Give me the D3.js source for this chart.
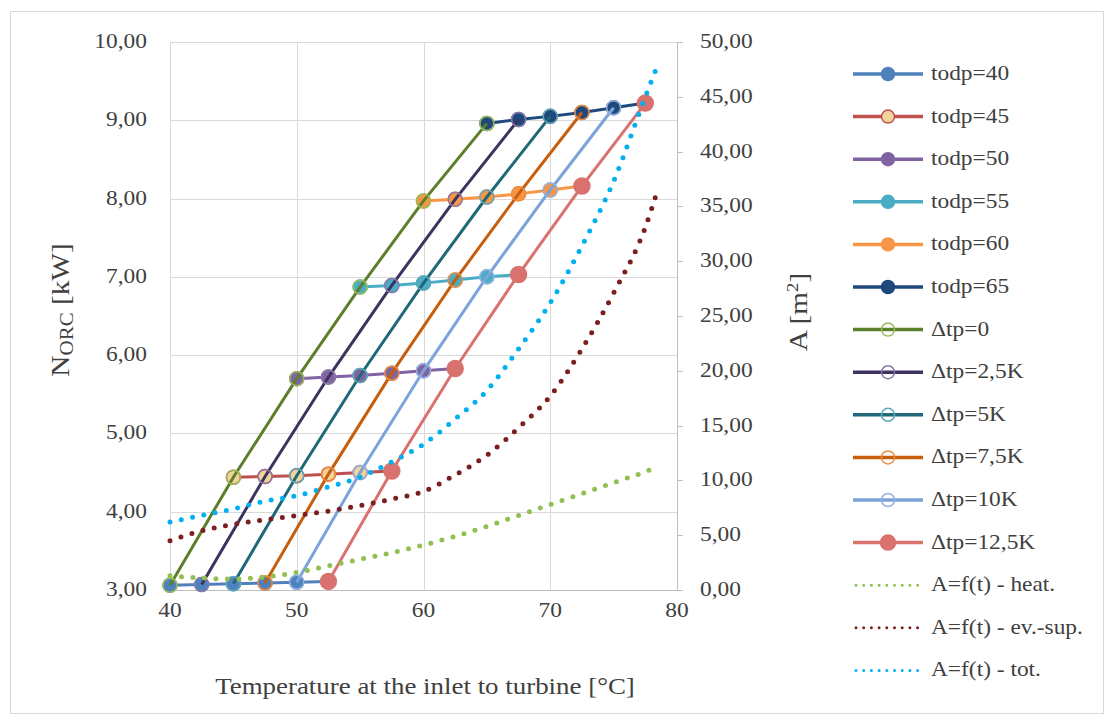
<!DOCTYPE html>
<html>
<head>
<meta charset="utf-8">
<script src="https://cdn.jsdelivr.net/npm/d3@7"></script>
<style>
  body { margin: 0; background: #fff; }
  text { font-family: 'Liberation Serif', 'Times New Roman', serif; fill: #404040; }
</style>
</head>
<body>
<svg id="chart" width="1108" height="722"></svg>
<script>
// ============ data ============
// power series (left axis, kW) - one row per todp
var todpLabels = ['todp=40', 'todp=45', 'todp=50', 'todp=55', 'todp=60', 'todp=65']
var todpTemps = [
  [40, 42.5, 45, 47.5, 50, 52.5],
  [45, 47.5, 50, 52.5, 55, 57.5],
  [50, 52.5, 55, 57.5, 60, 62.5],
  [55, 57.5, 60, 62.5, 65, 67.5],
  [60, 62.5, 65, 67.5, 70, 72.5],
  [65, 67.5, 70, 72.5, 75, 77.5]
]
var todpPower = [
  [3.06, 3.07, 3.08, 3.09, 3.10, 3.11],
  [4.44, 4.45, 4.46, 4.48, 4.50, 4.52],
  [5.70, 5.72, 5.74, 5.77, 5.80, 5.83],
  [6.87, 6.89, 6.92, 6.96, 7.00, 7.03],
  [7.97, 7.99, 8.02, 8.06, 8.11, 8.16],
  [8.96, 9.01, 9.05, 9.10, 9.16, 9.22]
]
// the Δtp series join the k-th point of every todp series
var dtpLabels = ['\u0394tp=0', '\u0394tp=2,5K', '\u0394tp=5K', '\u0394tp=7,5K', '\u0394tp=10K', '\u0394tp=12,5K']

// heat exchanger area (right axis, m2)
var areaTemps = [40, 42.5, 45, 47.5, 50, 52.5, 55, 57.5, 60, 62.5, 65, 67.5, 70, 72.5, 75, 77.5, 78.5]
var areaHeat = [1.3, 1.1, 1.0, 1.2, 1.6, 2.2, 2.8, 3.4, 4.1, 4.9, 5.8, 6.8, 7.8, 8.8, 9.8, 10.8, 11.3]
var areaEvSup = [4.5, 5.4, 6.0, 6.4, 6.8, 7.2, 7.7, 8.3, 9.0, 10.5, 12.3, 14.8, 17.7, 22.0, 27.1, 33.1, 36.6]
var areaTotal = [6.2, 6.8, 7.4, 8.1, 8.6, 9.4, 10.3, 11.7, 13.3, 15.6, 18.2, 22.0, 26.2, 31.4, 37.3, 45.0, 48.0]
var areaLabels = ['A=f(t) - heat.', 'A=f(t) - ev.-sup.', 'A=f(t) - tot.']

var leftTicks = [3, 4, 5, 6, 7, 8, 9, 10]
var rightTicks = [0, 5, 10, 15, 20, 25, 30, 35, 40, 45, 50]
var bottomTicks = [40, 50, 60, 70, 80]

// ============ colours ============
var todpColors = ['#4f81bd', '#c0504d', '#8064a2', '#4bacc6', '#f79646', '#1f497d']
var todpFill = ['#4f81bd', '#f0d49c', '#8064a2', '#4bacc6', '#f79646', '#1f497d']
var dtpColors = ['#5b7f2a', '#3f3160', '#1f6878', '#c65e0e', '#7ca3da', '#d9726f']
var dtpMarker = ['#9bbb59', '#8a7aa8', '#5ea8b8', '#ec8c3c', '#93b3e0', '#d9726f']
var areaColors = ['#92c050', '#7a1f1e', '#00b0f0']

// ============ scales ============
var x = d3.scaleLinear().domain([40, 80]).range([170, 677])
var yL = d3.scaleLinear().domain([3, 10]).range([590, 42])
var yR = d3.scaleLinear().domain([0, 50]).range([590, 42])
var comma = d3.formatLocale({ decimal: ',', thousands: ' ', grouping: [3], currency: ['', ''] }).format('.2f')

var svg = d3.select('#chart')

// text in the picture is a little wider than Liberation Serif
function stretch (sel, origin) {
  sel.style('transform-box', 'fill-box')
    .style('transform-origin', origin)
    .style('transform', 'scaleX(1.17)')
}

// outer frame
svg.append('rect')
  .attr('x', 10.5).attr('y', 11.5).attr('width', 1093).attr('height', 702)
  .attr('fill', '#fff').attr('stroke', '#d9d9d9')

// ============ grid ============
var grid = svg.append('g')
grid.selectAll('.hg').data(leftTicks).enter().append('line')
  .attr('x1', x(40)).attr('x2', x(80))
  .attr('y1', d => Math.round(yL(d)) + 0.5).attr('y2', d => Math.round(yL(d)) + 0.5)
  .attr('stroke', '#d9d9d9')
grid.selectAll('.vg').data([40, 50, 60, 70]).enter().append('line')
  .attr('x1', d => Math.round(x(d)) + 0.5).attr('x2', d => Math.round(x(d)) + 0.5)
  .attr('y1', yL(10)).attr('y2', yL(3))
  .attr('stroke', '#d9d9d9')
// bottom + right axis lines
svg.append('line').attr('x1', x(40)).attr('x2', x(80)).attr('y1', 590.5).attr('y2', 590.5).attr('stroke', '#bfbfbf')
svg.append('line').attr('x1', Math.round(x(80)) + 0.5).attr('x2', Math.round(x(80)) + 0.5)
  .attr('y1', yR(50)).attr('y2', yR(0)).attr('stroke', '#bfbfbf')
svg.selectAll('.rt').data(rightTicks).enter().append('line')
  .attr('x1', x(80)).attr('x2', x(80) + 6)
  .attr('y1', d => Math.round(yR(d)) + 0.5).attr('y2', d => Math.round(yR(d)) + 0.5)
  .attr('stroke', '#bfbfbf')

// ============ tick labels ============
svg.selectAll('.lt').data(leftTicks).enter().append('text')
  .attr('x', 147).attr('y', d => yL(d) + 6)
  .attr('text-anchor', 'end').attr('font-size', 20)
  .text(d => comma(d))
  .call(stretch, 'right center')
svg.selectAll('.rl').data(rightTicks).enter().append('text')
  .attr('x', 700).attr('y', d => yR(d) + 6)
  .attr('font-size', 20)
  .text(d => comma(d))
  .call(stretch, 'left center')
svg.selectAll('.bt').data(bottomTicks).enter().append('text')
  .attr('x', d => x(d)).attr('y', 617)
  .attr('text-anchor', 'middle').attr('font-size', 20)
  .text(d => d)
  .call(stretch, 'center')

// ============ axis titles ============
svg.append('text')
  .attr('x', 425).attr('y', 694)
  .attr('text-anchor', 'middle').attr('font-size', 23)
  .text('Temperature at the inlet to turbine [\u00B0C]')
  .call(stretch, 'center')

var lt = svg.append('g').attr('transform', 'translate(69,310) rotate(-90)')
  .append('text').attr('text-anchor', 'middle').attr('font-size', 25)
lt.append('tspan').text('N')
lt.append('tspan').attr('font-size', 18).attr('dy', 4).text('ORC')
lt.append('tspan').attr('dy', -4).text(' [kW]')
lt.call(stretch, 'center')

var rt = svg.append('g').attr('transform', 'translate(807,312) rotate(-90)')
  .append('text').attr('text-anchor', 'middle').attr('font-size', 25)
rt.append('tspan').text('A [m')
rt.append('tspan').attr('font-size', 16).attr('dy', -9).text('2')
rt.append('tspan').attr('dy', 9).text(']')
rt.call(stretch, 'center')

// ============ power series ============
var lineL = d3.line().x(d => x(d[0])).y(d => yL(d[1]))
var todpData = todpPower.map((row, i) => row.map((v, k) => [todpTemps[i][k], v]))
var dtpData = dtpLabels.map((l, k) => todpData.map(row => row[k]))

var plot = svg.append('g')
todpData.forEach(function (pts, i) {
  plot.append('path').datum(pts)
    .attr('d', lineL).attr('fill', 'none')
    .attr('stroke', todpColors[i]).attr('stroke-width', 3)
  plot.selectAll('.m' + i).data(pts).enter().append('circle')
    .attr('cx', d => x(d[0])).attr('cy', d => yL(d[1])).attr('r', 7)
    .attr('fill', todpFill[i]).attr('stroke', todpColors[i]).attr('stroke-width', 1.5)
})
dtpData.forEach(function (pts, k) {
  plot.append('path').datum(pts)
    .attr('d', lineL).attr('fill', 'none')
    .attr('stroke', dtpColors[k]).attr('stroke-width', 3)
  plot.selectAll('.d' + k).data(pts).enter().append('circle')
    .attr('cx', d => x(d[0])).attr('cy', d => yL(d[1]))
    .attr('r', k === 5 ? 8 : 7)
    .attr('fill', k === 5 ? dtpColors[k] : 'none')
    .attr('stroke', dtpMarker[k]).attr('stroke-width', 1.5)
})

// ============ area series (dotted, right axis) ============
var lineR = d3.line().curve(d3.curveMonotoneX).x(d => x(d[0])).y(d => yR(d[1]))
var areaData = [areaHeat, areaEvSup, areaTotal].map(vals => vals.map((v, i) => [areaTemps[i], v]))
areaData.forEach(function (pts, i) {
  plot.append('path').datum(pts)
    .attr('d', lineR).attr('fill', 'none')
    .attr('stroke', areaColors[i]).attr('stroke-width', 5)
    .attr('stroke-linecap', 'round').attr('stroke-dasharray', '0 11.5')
})

// ============ legend ============
var legendItems = []
todpLabels.forEach((l, i) => legendItems.push({ label: l, color: todpColors[i], fill: todpFill[i], stroke: todpColors[i], r: 6.5, type: 'line' }))
dtpLabels.forEach((l, k) => legendItems.push({ label: l, color: dtpColors[k], fill: k === 5 ? dtpColors[k] : 'none', stroke: dtpMarker[k], r: k === 5 ? 7.5 : 6.5, type: 'line' }))
areaLabels.forEach((l, i) => legendItems.push({ label: l, color: areaColors[i], type: 'dot' }))

var legend = svg.append('g')
  .selectAll('g').data(legendItems).enter().append('g')
  .attr('transform', (d, i) => 'translate(0,' + (74 + i * 42.6) + ')')

legend.append('line')
  .attr('x1', d => d.type === 'dot' ? 856 : 853).attr('x2', 923)
  .attr('stroke', d => d.color)
  .attr('stroke-width', d => d.type === 'dot' ? 3 : 3.5)
  .attr('stroke-linecap', d => d.type === 'dot' ? 'round' : 'butt')
  .attr('stroke-dasharray', d => d.type === 'dot' ? '0 7.7' : null)
legend.filter(d => d.type === 'line').append('circle')
  .attr('cx', 888).attr('r', d => d.r)
  .attr('fill', d => d.fill).attr('stroke', d => d.stroke).attr('stroke-width', 1.5)
legend.append('text')
  .attr('x', 931).attr('y', 6)
  .attr('font-size', 20)
  .text(d => d.label)
  .call(stretch, 'left center')
</script>
</body>
</html>
